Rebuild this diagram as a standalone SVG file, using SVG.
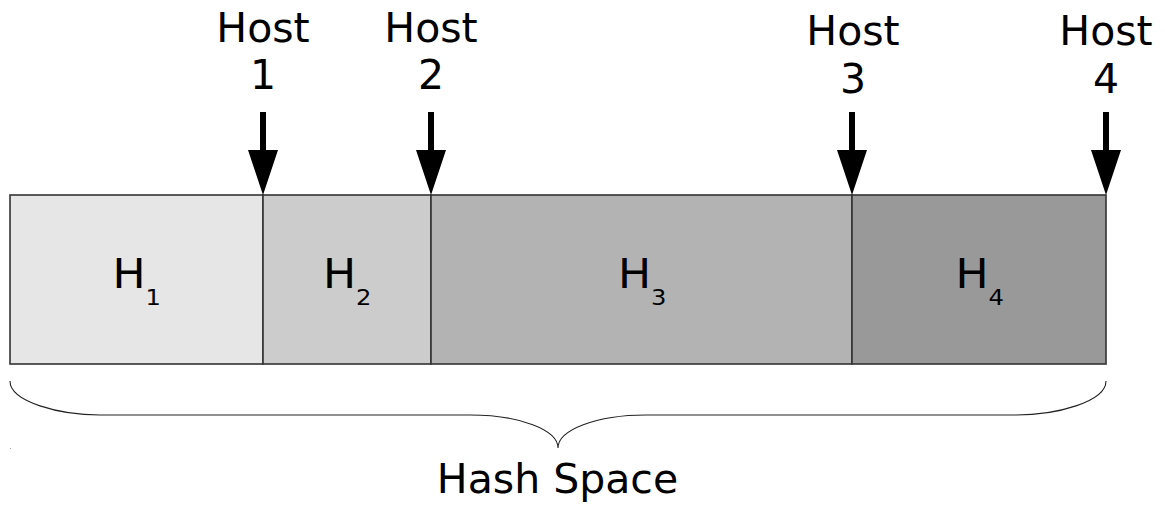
<svg xmlns="http://www.w3.org/2000/svg" width="1165" height="506" viewBox="0 0 1165 506">
  <style>
    .label { font-family: "DejaVu Sans", sans-serif; fill: #000; }
    .host { font-size: 41px; text-anchor: middle; }
    .hname { font-size: 40px; }
    .sub { font-size: 22px; }
    .seg { stroke: #333; stroke-width: 1.6; }
    .shaft { stroke: #000; stroke-width: 6; }
    .head { fill: #000; }
    .brace { fill: none; stroke: #222; stroke-width: 1.1; }
  </style>
  <rect width="1165" height="506" fill="#fff"/>

  <!-- hash space segments; labels are drawn slightly widened -->
  <g id="segment-h1">
    <rect class="seg" x="10" y="195" width="253" height="169" fill="#e6e6e6"/>
    <text class="label hname" transform="translate(112.5,288) scale(1.1,1)">H<tspan class="sub" dy="17">1</tspan></text>
  </g>
  <g id="segment-h2">
    <rect class="seg" x="263" y="195" width="168" height="169" fill="#cccccc"/>
    <text class="label hname" transform="translate(323,288) scale(1.1,1)">H<tspan class="sub" dy="17">2</tspan></text>
  </g>
  <g id="segment-h3">
    <rect class="seg" x="431" y="195" width="421" height="169" fill="#b3b3b3"/>
    <text class="label hname" transform="translate(618,288) scale(1.1,1)">H<tspan class="sub" dy="17">3</tspan></text>
  </g>
  <g id="segment-h4">
    <rect class="seg" x="852" y="195" width="254" height="169" fill="#999999"/>
    <text class="label hname" transform="translate(955.5,288) scale(1.1,1)">H<tspan class="sub" dy="17">4</tspan></text>
  </g>

  <!-- host labels -->
  <g id="host-1">
    <text class="label host" x="263" y="42">Host</text>
    <text class="label host" x="263" y="89">1</text>
  </g>
  <g id="host-2">
    <text class="label host" x="431" y="42">Host</text>
    <text class="label host" x="431" y="89">2</text>
  </g>
  <g id="host-3">
    <text class="label host" x="853" y="45">Host</text>
    <text class="label host" x="853" y="93">3</text>
  </g>
  <g id="host-4">
    <text class="label host" x="1106" y="45">Host</text>
    <text class="label host" x="1106" y="93">4</text>
  </g>

  <!-- arrows from hosts to segment boundaries -->
  <g id="connectors">
    <line class="shaft" x1="263" y1="112" x2="263" y2="152"/>
    <polygon class="head" points="248,150 278,150 263,195"/>
    <line class="shaft" x1="431" y1="112" x2="431" y2="152"/>
    <polygon class="head" points="416,150 446,150 431,195"/>
    <line class="shaft" x1="852" y1="112" x2="852" y2="152"/>
    <polygon class="head" points="837,150 867,150 852,195"/>
    <line class="shaft" x1="1106" y1="112" x2="1106" y2="152"/>
    <polygon class="head" points="1091,150 1121,150 1106,195"/>
  </g>

  <!-- brace spanning the whole hash space -->
  <g id="hash-space">
    <path class="brace" d="M10,381 C10,402 60,415 100,415 L470,415 C520,415 558,430 558,448 C558,430 596,415 646,415 L1016,415 C1056,415 1106,402 1106,381"/>
    <circle cx="10.5" cy="448.5" r="0.6" fill="#999"/>
    <text class="label host" x="557.5" y="493">Hash Space</text>
  </g>
</svg>
